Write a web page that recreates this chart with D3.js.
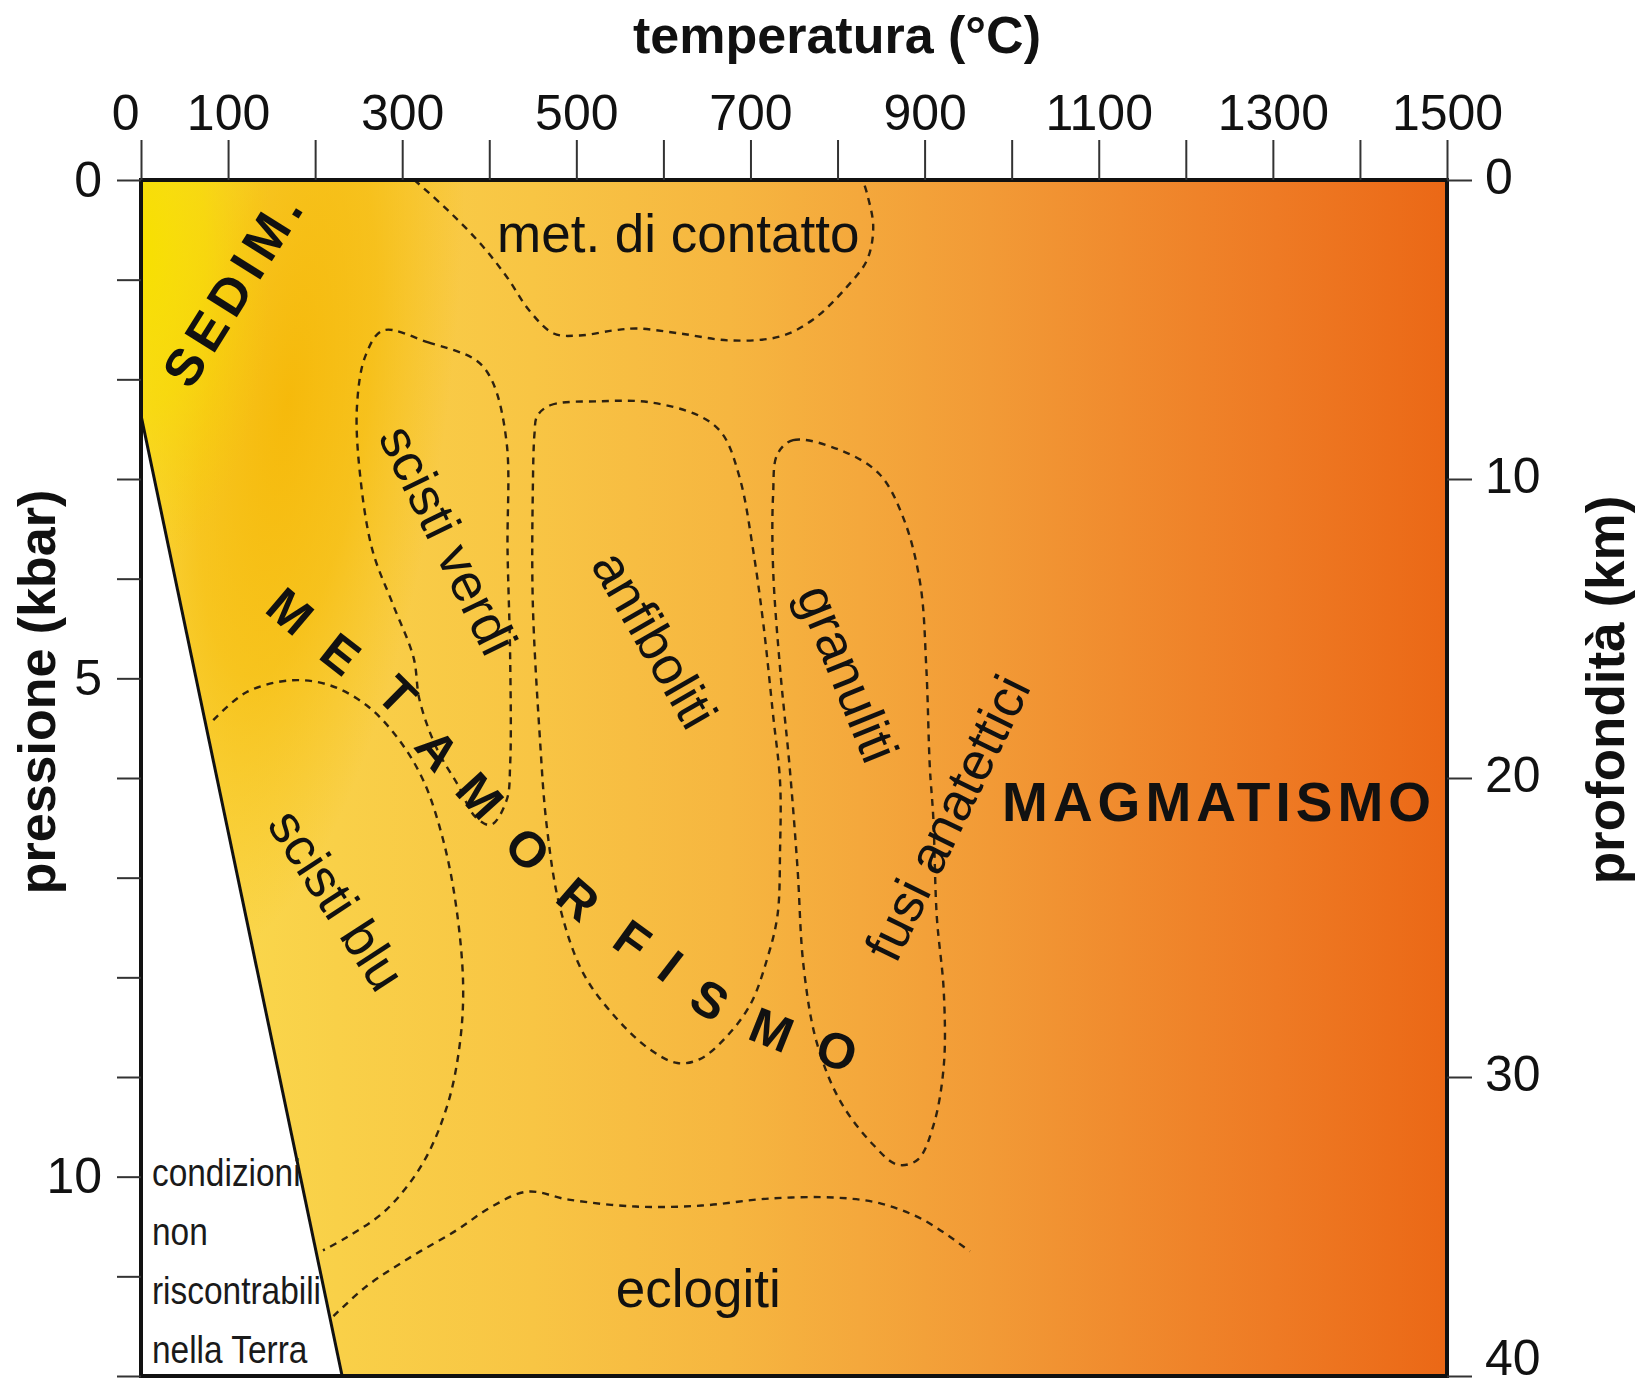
<!DOCTYPE html>
<html lang="it">
<head>
<meta charset="UTF-8">
<title>Campi P-T del metamorfismo</title>
<script src="https://cdn.jsdelivr.net/npm/d3@7"></script>
<style>
  body { margin: 0; background: #fff; }
</style>
</head>
<body>
<script>
// ---- data: temperature in °C, pressure in kbar ----
var tempTicks = d3.range(0, 1501, 100);
var tempLabels = [0, 100, 300, 500, 700, 900, 1100, 1300, 1500];
var presTicks = d3.range(0, 13);
var presLabels = [0, 5, 10];
var depthTicks = [0, 10, 20, 30, 40];

// limit of the conditions found in the Earth
var earthLimit = [[0, 2.36], [231, 12]];

// dashed field boundaries [T, P]
var contatto = [[314,0],[352,0.30],[390,0.64],[420,0.97],[446,1.31],[474,1.54],[504,1.56],[542,1.51],[570,1.49],[619,1.54],[677,1.61],[734,1.57],[772,1.40],[811,1.07],[834,0.80],[841,0.47],[834,0.14],[829,0]];
var scistiVerdi = [[278,1.51],[330,1.63],[385,1.81],[404,2.03],[420,2.64],[421,3.72],[424,4.79],[424,5.86],[420,6.22],[402,6.47],[384,6.39],[364,6.07],[340,5.71],[320,5.22],[313,4.79],[289,4.25],[266,3.72],[252,2.99],[248,2.28],[258,1.76]];
var anfiboliti = [[455,2.37],[470,2.26],[527,2.22],[584,2.23],[642,2.37],[668,2.55],[688,3.00],[703,3.71],[715,4.47],[726,5.37],[734,6.04],[734,6.71],[731,7.38],[719,7.82],[700,8.27],[673,8.59],[642,8.82],[616,8.86],[584,8.72],[546,8.41],[508,7.96],[481,7.29],[466,6.48],[458,5.58],[450,4.24],[450,3.13],[452,2.54]];
var granuliti = [[731,2.75],[749,2.61],[803,2.71],[848,2.95],[876,3.40],[895,4.05],[902,4.90],[906,5.89],[910,6.40],[914,7.39],[922,8.14],[922,8.89],[910,9.49],[892,9.83],[869,9.88],[841,9.68],[803,9.24],[776,8.65],[761,7.89],[754,6.90],[745,5.89],[734,4.90],[726,3.90],[726,3.16]];
var scistiBlu = [[83,5.42],[121,5.14],[172,5.02],[217,5.07],[259,5.27],[294,5.59],[324,6.02],[347,6.62],[362,7.29],[370,8.08],[366,8.68],[352,9.28],[324,9.86],[282,10.33],[236,10.61],[209,10.74]];
var eclogiti = [[221,11.4],[259,11.1],[311,10.8],[362,10.54],[403,10.3],[444,10.15],[491,10.23],[568,10.3],[644,10.29],[721,10.22],[798,10.21],[850,10.27],[900,10.44],[952,10.75]];

// labels and where they sit [T, P]
var fieldNames = ["met. di contatto", "scisti verdi", "anfiboliti", "granuliti", "fusi anatettici", "scisti blu", "eclogiti"];
var fieldAnchors = [[617,0.54],[353,3.61],[590,4.61],[812,4.95],[926,6.40],[225,7.22],[640,11.12]];
var metaWord = "METAMORFISMO";
var metaAnchors = [[171,4.33],[229,4.76],[294,5.17],[340,5.72],[389,6.18],[444,6.72],[502,7.22],[564,7.63],[608,7.89],[653,8.23],[724,8.53],[799,8.74]];
var sedimAnchor = [107, 1.08];
var magmaAnchor = [989, 6.24];
var noteLines = ["condizioni", "non", "riscontrabili", "nella Terra"];
var noteAnchor = [12.6, 10.09];

var W = 1638, H = 1386;
var FONT = '"Liberation Sans", Arial, Helvetica, sans-serif';

var x = d3.scaleLinear().domain([0, 1500]).range([141, 1447]);
var y = d3.scaleLinear().domain([0, 12]).range([180, 1376]);
var depth = d3.scaleLinear().domain([0, 40]).range([180, 1376]);

var svg = d3.select("body").append("svg")
    .attr("width", W)
    .attr("height", H)
    .style("font-family", FONT);

// ---- background colours ----
var defs = svg.append("defs");

var base = defs.append("linearGradient")
    .attr("id", "base")
    .attr("gradientUnits", "userSpaceOnUse")
    .attr("x1", x(0)).attr("x2", x(1500)).attr("y1", 0).attr("y2", 0);
[[0, "#fbdc4e"], [0.15, "#f9d048"], [0.3, "#f8c544"], [0.45, "#f6b640"], [0.55, "#f4a83c"],
 [0.65, "#f29a36"], [0.75, "#f08b2e"], [0.87, "#ee7a24"], [1, "#eb6816"]].forEach(function(s) {
    base.append("stop").attr("offset", s[0]).attr("stop-color", s[1]);
});

var gold = defs.append("radialGradient")
    .attr("id", "gold")
    .attr("gradientUnits", "userSpaceOnUse")
    .attr("cx", 0).attr("cy", 0).attr("r", 1)
    .attr("gradientTransform", "translate(288,400) rotate(8) scale(160,560)");
gold.append("stop").attr("offset", 0).attr("stop-color", "#f5b500").attr("stop-opacity", 0.85);
gold.append("stop").attr("offset", 0.5).attr("stop-color", "#f5b800").attr("stop-opacity", 0.6);
gold.append("stop").attr("offset", 1).attr("stop-color", "#f6bc00").attr("stop-opacity", 0);

var lemon = defs.append("radialGradient")
    .attr("id", "lemon")
    .attr("gradientUnits", "userSpaceOnUse")
    .attr("cx", 0).attr("cy", 0).attr("r", 1)
    .attr("gradientTransform", "translate(141,250) scale(130,320)");
lemon.append("stop").attr("offset", 0).attr("stop-color", "#f7e000").attr("stop-opacity", 1);
lemon.append("stop").attr("offset", 0.5).attr("stop-color", "#f7db00").attr("stop-opacity", 0.7);
lemon.append("stop").attr("offset", 1).attr("stop-color", "#f6d000").attr("stop-opacity", 0);

var plot = svg.append("g");
["base", "gold", "lemon"].forEach(function(id) {
    plot.append("rect")
        .attr("x", x(0)).attr("y", y(0))
        .attr("width", x(1500) - x(0)).attr("height", y(12) - y(0))
        .attr("fill", "url(#" + id + ")");
});

// region not found in the Earth
plot.append("path")
    .attr("d", d3.line()([[x(earthLimit[0][0]), y(earthLimit[0][1])],
                          [x(earthLimit[1][0]), y(earthLimit[1][1])],
                          [x(0), y(12)]]) + "Z")
    .attr("fill", "#fff");

plot.append("line")
    .attr("x1", x(earthLimit[0][0])).attr("y1", y(earthLimit[0][1]))
    .attr("x2", x(earthLimit[1][0])).attr("y2", y(earthLimit[1][1]))
    .attr("stroke", "#111").attr("stroke-width", 3);

// ---- dashed fields ----
var openLine = d3.line().x(d => x(d[0])).y(d => y(d[1])).curve(d3.curveCatmullRom.alpha(0.5));
var closedLine = d3.line().x(d => x(d[0])).y(d => y(d[1])).curve(d3.curveCatmullRomClosed.alpha(0.5));

var fields = plot.append("g")
    .attr("fill", "none")
    .attr("stroke", "#2e2210")
    .attr("stroke-width", 2.4)
    .attr("stroke-dasharray", "7,6");

fields.selectAll(".open").data([contatto, scistiBlu, eclogiti]).enter()
    .append("path").attr("class", "open").attr("d", openLine);
fields.selectAll(".closed").data([scistiVerdi, anfiboliti, granuliti]).enter()
    .append("path").attr("class", "closed").attr("d", closedLine);

// ---- labels ----
var fieldRot = [0, 64, 60, 68, -64, 57, 0];
plot.selectAll(".field").data(fieldNames).enter()
    .append("text")
    .attr("class", "field")
    .attr("transform", (d, i) => "translate(" + x(fieldAnchors[i][0]) + "," + y(fieldAnchors[i][1]) + ") rotate(" + fieldRot[i] + ")")
    .attr("text-anchor", "middle")
    .attr("dominant-baseline", "central")
    .attr("font-size", 53)
    .attr("fill", "#111")
    .text(d => d);

plot.append("text")
    .attr("transform", "translate(" + x(sedimAnchor[0]) + "," + y(sedimAnchor[1]) + ") rotate(-58)")
    .attr("text-anchor", "middle")
    .attr("dominant-baseline", "central")
    .attr("font-size", 52)
    .attr("font-weight", "bold")
    .attr("letter-spacing", 7)
    .attr("fill", "#111")
    .text("SEDIM.");

plot.append("text")
    .attr("x", x(magmaAnchor[0])).attr("y", y(magmaAnchor[1]))
    .attr("dominant-baseline", "central")
    .attr("font-size", 55)
    .attr("font-weight", "bold")
    .attr("letter-spacing", 5)
    .attr("fill", "#111")
    .text("MAGMATISMO");

// METAMORFISMO, one letter at a time along its arc
var metaPts = metaAnchors.map(d => [x(d[0]), y(d[1])]);
plot.selectAll(".meta").data(metaWord.split("")).enter()
    .append("text")
    .attr("class", "meta")
    .attr("transform", function(d, i) {
        var a = metaPts[Math.max(0, i - 1)], b = metaPts[Math.min(metaPts.length - 1, i + 1)];
        var ang = Math.atan2(b[1] - a[1], b[0] - a[0]) * 180 / Math.PI;
        return "translate(" + metaPts[i][0] + "," + metaPts[i][1] + ") rotate(" + ang + ")";
    })
    .attr("text-anchor", "middle")
    .attr("dominant-baseline", "central")
    .attr("font-size", 50)
    .attr("font-weight", "bold")
    .attr("fill", "#111")
    .text(d => d);

// note in the white corner
plot.selectAll(".note").data(noteLines).enter()
    .append("text")
    .attr("class", "note")
    .attr("transform", (d, i) => "translate(" + x(noteAnchor[0]) + "," + (y(noteAnchor[1]) + i * 59) + ") scale(0.88,1)")
    .attr("font-size", 38)
    .attr("fill", "#1a1a1a")
    .text(d => d);

// ---- frame and axes ----
svg.append("rect")
    .attr("x", x(0)).attr("y", y(0))
    .attr("width", x(1500) - x(0)).attr("height", y(12) - y(0))
    .attr("fill", "none")
    .attr("stroke", "#111")
    .attr("stroke-width", 4);

function styleAxis(g) {
    g.select(".domain").remove();
    g.attr("font-family", FONT).attr("font-size", 50).attr("color", "#111");
    g.selectAll("line").attr("stroke", "#333").attr("stroke-width", 2);
}

var gTop = svg.append("g")
    .attr("transform", "translate(0," + y(0) + ")")
    .call(d3.axisTop(x).tickValues(tempTicks).tickSize(40).tickPadding(10)
        .tickFormat(d => tempLabels.includes(d) ? d : ""))
    .call(styleAxis);
gTop.selectAll(".tick").filter(d => d === 0).select("text")
    .attr("text-anchor", "end").attr("x", -2);

svg.append("g")
    .attr("transform", "translate(" + x(0) + ",0)")
    .call(d3.axisLeft(y).tickValues(presTicks).tickSize(24).tickPadding(15)
        .tickFormat(d => presLabels.includes(d) ? d : ""))
    .call(styleAxis);

var gRight = svg.append("g")
    .attr("transform", "translate(" + x(1500) + ",0)")
    .call(d3.axisRight(depth).tickValues(depthTicks).tickSize(25).tickPadding(13))
    .call(styleAxis);
// the last label is lifted so it stays inside the picture
gRight.selectAll("text").attr("dy", d => d === 40 ? "-0.04em" : "0.27em");

// axis titles
svg.append("text")
    .attr("x", 837).attr("y", 53)
    .attr("text-anchor", "middle")
    .attr("font-size", 52).attr("font-weight", "bold").attr("fill", "#111")
    .text("temperatura (°C)");

svg.append("text")
    .attr("transform", "translate(55,692) rotate(-90)")
    .attr("text-anchor", "middle")
    .attr("font-size", 52).attr("font-weight", "bold").attr("fill", "#111")
    .text("pressione (kbar)");

svg.append("text")
    .attr("transform", "translate(1624,690) rotate(-90)")
    .attr("text-anchor", "middle")
    .attr("font-size", 53).attr("font-weight", "bold").attr("fill", "#111")
    .text("profondità (km)");
</script>
</body>
</html>
